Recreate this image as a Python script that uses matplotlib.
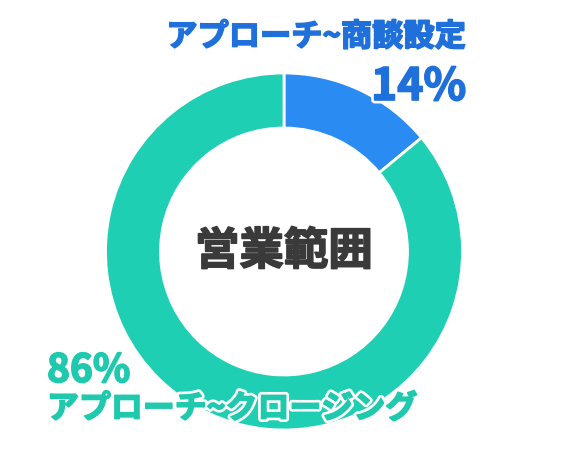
import matplotlib.pyplot as plt
import matplotlib.patheffects as pe

plt.rcParams['font.family'] = ['Noto Sans CJK JP', 'DejaVu Sans']

labels = ['アプローチ~商談設定', 'アプローチ~クロージング']
shares = [14, 86]
colors = ['#2A8BF3', '#1FCFB3']
text_colors = ['#1F70DB', '#1FC9AD']
center_title = '営業範囲'

W, H = 570, 463
fig = plt.figure(figsize=(W / 100, H / 100), dpi=100)
ax = fig.add_axes([0, 0, 1, 1])

cx, cy, r = 284, H - 251.5, 178.5
ax.pie(shares, colors=colors, startangle=90, counterclock=False,
       center=(cx, cy), radius=r,
       wedgeprops=dict(width=55, edgecolor='white', linewidth=2))
ax.set_xlim(0, W)
ax.set_ylim(0, H)
ax.set_aspect('equal')
ax.axis('off')


def heavy(col, halo=5):
    # white halo + thin same-colour stroke to thicken the glyphs
    fx = []
    if halo:
        fx.append(pe.Stroke(linewidth=halo, foreground='white'))
    fx += [pe.Stroke(linewidth=1.2, foreground=col), pe.Normal()]
    return fx


ax.text(cx, cy, center_title, ha='center', va='center', fontsize=32,
        fontweight='bold', color='#3A3A3A', path_effects=heavy('#3A3A3A', 0))

# top label (small slice)
ax.text(466, H - 37, labels[0], ha='right', va='center', fontsize=22.5,
        fontweight='bold', color=text_colors[0], path_effects=heavy(text_colors[0]))
ax.text(466, H - 100, f'{shares[0]}%', ha='right', va='baseline', fontsize=32,
        fontweight='bold', color=text_colors[0], path_effects=heavy(text_colors[0]))

# bottom label (large slice)
ax.text(47, H - 382, f'{shares[1]}%', ha='left', va='baseline', fontsize=28,
        fontweight='bold', color=text_colors[1], path_effects=heavy(text_colors[1]))
ax.text(47, H - 409, labels[1], ha='left', va='center', fontsize=23,
        fontweight='bold', color=text_colors[1], path_effects=heavy(text_colors[1]))

fig.savefig('out.png', dpi=100)
